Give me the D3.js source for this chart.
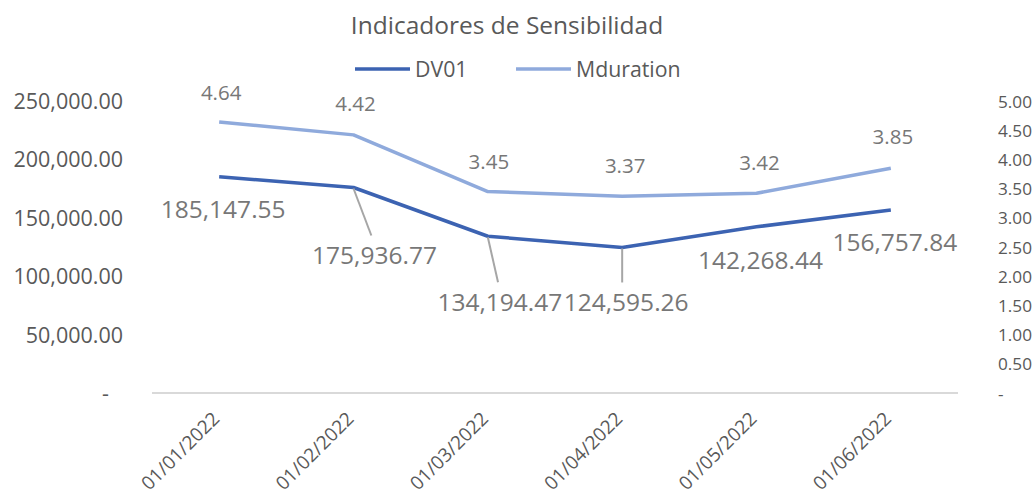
<!DOCTYPE html>
<html>
<head>
<meta charset="utf-8">
<script src="https://cdn.jsdelivr.net/npm/d3@7/dist/d3.min.js"></script>
<style>
  html, body { margin: 0; padding: 0; background: #ffffff; }
  text { font-family: "Open Sans", "Noto Sans", sans-serif; }
</style>
</head>
<body>
<svg id="chart" width="1035" height="496"></svg>
<script>
// ---- data ----
const categories = ["01/01/2022", "01/02/2022", "01/03/2022", "01/04/2022", "01/05/2022", "01/06/2022"];
const dv01 = [185147.55, 175936.77, 134194.47, 124595.26, 142268.44, 156757.84];
const mduration = [4.64, 4.42, 3.45, 3.37, 3.42, 3.85];
const leftTicks = [0, 50000, 100000, 150000, 200000, 250000];
const rightTicks = [0, 0.5, 1, 1.5, 2, 2.5, 3, 3.5, 4, 4.5, 5];
const seriesNames = ["DV01", "Mduration"];
const title = "Indicadores de Sensibilidad";

// ---- layout (label offsets in pixels relative to point) ----
const dvLabelOffsets = [[4, 33], [21, 68], [12, 66], [4, 55], [4, 34], [4, 33]];
const mdLabelOffsets = [[2, -29], [2, -31], [1, -30], [3, -30], [3, -30], [2, -31]];
const leaderLines = [false, true, true, true, false, false];

const colors = { dv01: "#3C63B2", md: "#8FAADC", text: "#595959", label: "#777777", axis: "#D9D9D9", leader: "#A6A6A6" };

const svg = d3.select("#chart");
const plot = { left: 152, right: 958, top: 101, bottom: 393 };

const x = d3.scalePoint().domain(categories).range([plot.left, plot.right]).padding(0.5);
const yL = d3.scaleLinear().domain([0, 250000]).range([plot.bottom, plot.top]);
const yR = d3.scaleLinear().domain([0, 5]).range([plot.bottom, plot.top]);

const fmtL = v => v === 0 ? "-" : d3.format(",.2f")(v);
const fmtR = v => v === 0 ? "-" : d3.format(".2f")(v);

// title
svg.append("text").attr("x", 507).attr("y", 34).attr("text-anchor", "middle")
  .attr("font-size", 24.5).attr("fill", colors.text).text(title);

// legend
const legend = [
  { name: seriesNames[0], color: colors.dv01, x1: 355, x2: 410 },
  { name: seriesNames[1], color: colors.md, x1: 516, x2: 571 }
];
legend.forEach(l => {
  svg.append("line").attr("x1", l.x1).attr("x2", l.x2).attr("y1", 69).attr("y2", 69)
    .attr("stroke", l.color).attr("stroke-width", 3.5);
  svg.append("text").attr("x", l.x2 + 5).attr("y", 77).attr("font-size", 21.3)
    .attr("fill", colors.text).text(l.name);
});

// left axis
const gL = svg.append("g").attr("transform", `translate(${plot.left - 29},0)`)
  .call(d3.axisLeft(yL).tickValues(leftTicks).tickFormat(fmtL).tickSize(0).tickPadding(0));
gL.select(".domain").remove();
gL.selectAll("text").attr("font-size", 21.5).attr("fill", colors.text).attr("dy", "0.35em")
  .attr("dx", d => d === 0 ? -14 : 0);

// right axis
const gR = svg.append("g").attr("transform", `translate(${plot.right + 40},0)`)
  .call(d3.axisRight(yR).tickValues(rightTicks).tickFormat(fmtR).tickSize(0).tickPadding(0));
gR.select(".domain").remove();
gR.selectAll("text").attr("font-size", 17.2).attr("fill", colors.text).attr("dy", "0.35em");

// baseline
svg.append("line").attr("x1", plot.left).attr("x2", plot.right)
  .attr("y1", plot.bottom).attr("y2", plot.bottom)
  .attr("stroke", colors.axis).attr("stroke-width", 2);

// x axis labels
const gX = svg.append("g").attr("transform", `translate(0,${plot.bottom})`)
  .call(d3.axisBottom(x).tickSize(0).tickPadding(0));
gX.select(".domain").remove();
gX.selectAll("text")
  .attr("font-size", 19).attr("fill", colors.text)
  .attr("text-anchor", "end")
  .attr("dy", 0)
  .attr("transform", "translate(1,27) rotate(-45)");

// lines
const lineDV = d3.line().x((d, i) => x(categories[i])).y(d => yL(d));
const lineMD = d3.line().x((d, i) => x(categories[i])).y(d => yR(d));

svg.append("path").datum(mduration).attr("d", lineMD).attr("fill", "none")
  .attr("stroke", colors.md).attr("stroke-width", 3.5).attr("stroke-linejoin", "round");
svg.append("path").datum(dv01).attr("d", lineDV).attr("fill", "none")
  .attr("stroke", colors.dv01).attr("stroke-width", 3.5).attr("stroke-linejoin", "round");

// leader lines for DV01 labels
dv01.forEach((v, i) => {
  if (!leaderLines[i]) return;
  const px = x(categories[i]), py = yL(v);
  const [dx, dy] = dvLabelOffsets[i];
  const lx = px + (i === 3 ? 0 : dx * 0.85);
  svg.append("line").attr("x1", px).attr("y1", py + 1).attr("x2", lx).attr("y2", py + dy - 20)
    .attr("stroke", colors.leader).attr("stroke-width", 2);
});

// DV01 data labels
svg.append("g").selectAll("text").data(dv01).join("text")
  .attr("x", (d, i) => x(categories[i]) + dvLabelOffsets[i][0])
  .attr("y", (d, i) => yL(d) + dvLabelOffsets[i][1])
  .attr("dy", "0.35em").attr("text-anchor", "middle")
  .attr("font-size", 24.5).attr("fill", colors.label)
  .text(d => d3.format(",.2f")(d));

// Mduration data labels
svg.append("g").selectAll("text").data(mduration).join("text")
  .attr("x", (d, i) => x(categories[i]) + mdLabelOffsets[i][0])
  .attr("y", (d, i) => yR(d) + mdLabelOffsets[i][1])
  .attr("dy", "0.35em").attr("text-anchor", "middle")
  .attr("font-size", 20.5).attr("fill", colors.label)
  .text(d => d3.format(".2f")(d));
</script>
</body>
</html>
